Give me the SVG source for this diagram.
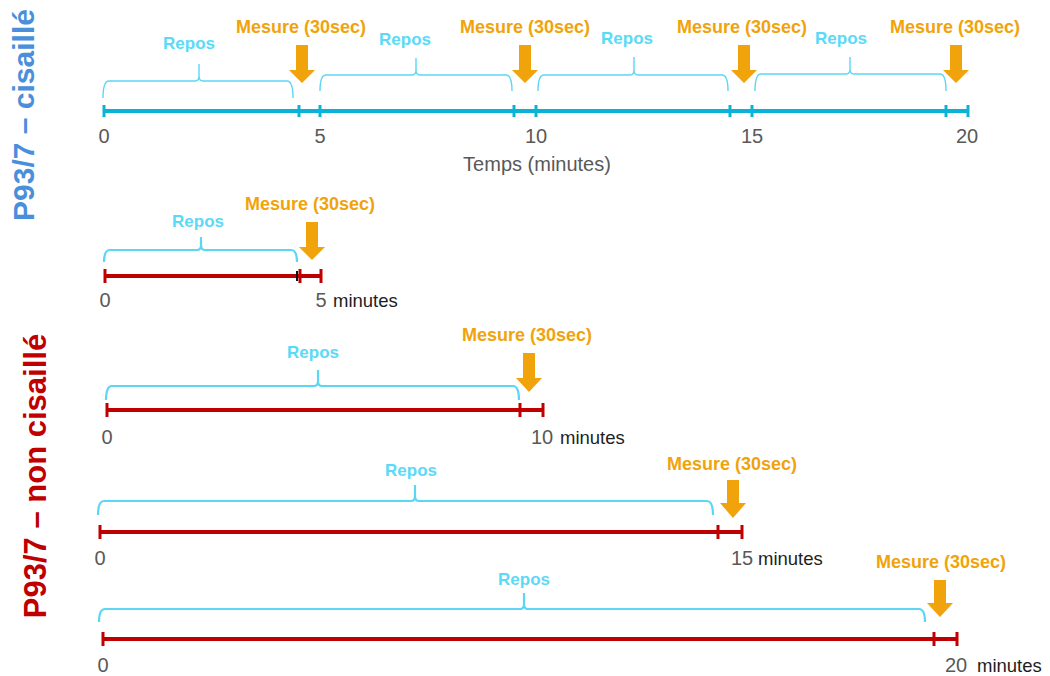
<svg xmlns="http://www.w3.org/2000/svg" width="1050" height="676" viewBox="0 0 1050 676">
<style>
.title{font-family:"Liberation Sans",Arial,sans-serif;font-weight:bold;text-anchor:middle}
.mes{font-family:"Liberation Sans",Arial,sans-serif;font-weight:bold;font-size:18px;fill:#F0A30A;text-anchor:middle}
.rep{font-family:"Liberation Sans",Arial,sans-serif;font-weight:bold;font-size:17px;fill:#5BDAF8;text-anchor:middle}
.num{font-family:"Liberation Sans",Arial,sans-serif;font-size:20px;fill:#595959;text-anchor:middle}
.min{font-family:"Liberation Sans",Arial,sans-serif;font-size:18.5px;fill:#1e1e1e}
.blue{stroke:#0AB2D6;stroke-width:4;fill:none}
.btick{stroke:#0AB2D6;stroke-width:3}
.red{stroke:#C00000;stroke-width:4;fill:none}
.rtick{stroke:#C00000;stroke-width:3}
.brace{stroke:#5CD6F5;stroke-width:1.4;fill:none}
.brace2{stroke:#5CD6F5;stroke-width:2.2;fill:none}
.arrow{fill:#F0A30A}
</style>

<text class="title" font-size="30" fill="#4A8FDB" transform="translate(34,115) rotate(-90)">P93/7 – cisaillé</text>
<text class="title" font-size="31" fill="#C00000" transform="translate(46,476) rotate(-90)">P93/7 – non cisaillé</text>

<g id="timeline-cisaille">
  <line class="blue" x1="104" y1="111" x2="968" y2="111"/>
  <g class="btick">
    <line x1="104" y1="105" x2="104" y2="117"/>
    <line x1="299" y1="105" x2="299" y2="117"/>
    <line x1="320" y1="105" x2="320" y2="117"/>
    <line x1="514" y1="105" x2="514" y2="117"/>
    <line x1="536" y1="105" x2="536" y2="117"/>
    <line x1="730" y1="105" x2="730" y2="117"/>
    <line x1="752" y1="105" x2="752" y2="117"/>
    <line x1="946" y1="105" x2="946" y2="117"/>
    <line x1="968" y1="105" x2="968" y2="117"/>
  </g>
  <text class="num" x="104" y="143">0</text>
  <text class="num" x="320" y="143">5</text>
  <text class="num" x="536" y="143">10</text>
  <text class="num" x="752" y="143">15</text>
  <text class="num" x="967" y="143">20</text>
  <text class="num" x="537" y="171">Temps (minutes)</text>
  <path class="brace" d="M103 98 Q103 81 109 81 L195 81 Q199 81 199 76 L199 64 L199 76 Q199 81 203 81 L287 81 Q293 81 293 98"/>
  <path class="brace" d="M320 91 Q320 75 326 75 L412 75 Q416 75 416 70 L416 58 L416 70 Q416 75 420 75 L506 75 Q512 75 512 91"/>
  <path class="brace" d="M538 91 Q538 75 544 75 L630 75 Q634 75 634 70 L634 57 L634 70 Q634 75 638 75 L722 75 Q728 75 728 91"/>
  <path class="brace" d="M755 91 Q755 74 761 74 L846 74 Q850 74 850 69 L850 57 L850 69 Q850 74 854 74 L940 74 Q946 74 946 91"/>
  <text class="rep" x="189" y="49">Repos</text>
  <text class="rep" x="405" y="45">Repos</text>
  <text class="rep" x="627" y="44">Repos</text>
  <text class="rep" x="841" y="44">Repos</text>
  <polygon class="arrow" points="296,45 308,45 308,70 315,70 302,83 289,70 296,70"/>
  <polygon class="arrow" points="519,45 531,45 531,70 538,70 525,83 512,70 519,70"/>
  <polygon class="arrow" points="738,45 750,45 750,70 757,70 744,83 731,70 738,70"/>
  <polygon class="arrow" points="950,45 962,45 962,70 969,70 956,83 943,70 950,70"/>
  <text class="mes" x="301" y="33">Mesure (30sec)</text>
  <text class="mes" x="525" y="33">Mesure (30sec)</text>
  <text class="mes" x="742" y="33">Mesure (30sec)</text>
  <text class="mes" x="955" y="33">Mesure (30sec)</text>
</g>

<g id="timeline-5min">
  <line class="red" x1="105" y1="276" x2="321" y2="276"/>
  <g class="rtick">
    <line x1="105" y1="269" x2="105" y2="283"/>
    <line x1="300" y1="269" x2="300" y2="283"/>
    <line x1="321" y1="269" x2="321" y2="283"/>
  </g>
  <line x1="297" y1="271" x2="297" y2="281" stroke="#111" stroke-width="2"/>
  <path class="brace2" d="M104 262 Q104 250 110 250 L197 250 Q201 250 201 245 L201 237 L201 245 Q201 250 205 250 L291 250 Q297 250 297 262"/>
  <text class="rep" x="198" y="227">Repos</text>
  <polygon class="arrow" points="306,222 318,222 318,247 325,247 312,260 299,247 306,247"/>
  <text class="mes" x="310" y="210">Mesure (30sec)</text>
  <text class="num" x="105" y="307">0</text>
  <text class="num" x="321" y="307">5</text>
  <text class="min" x="333" y="307">minutes</text>
</g>

<g id="timeline-10min">
  <line class="red" x1="107" y1="410" x2="543" y2="410"/>
  <g class="rtick">
    <line x1="107" y1="403" x2="107" y2="417"/>
    <line x1="520" y1="403" x2="520" y2="417"/>
    <line x1="543" y1="403" x2="543" y2="417"/>
  </g>
  <path class="brace2" d="M106 400 Q106 386 112 386 L314 386 Q318 386 318 381 L318 370 L318 381 Q318 386 322 386 L513 386 Q519 386 519 400"/>
  <text class="rep" x="313" y="358">Repos</text>
  <polygon class="arrow" points="523,353 535,353 535,378 542,378 529,392 516,378 523,378"/>
  <text class="mes" x="527" y="341">Mesure (30sec)</text>
  <text class="num" x="107" y="444">0</text>
  <text class="num" x="542" y="444">10</text>
  <text class="min" x="560" y="444">minutes</text>
</g>

<g id="timeline-15min">
  <line class="red" x1="100" y1="532" x2="742" y2="532"/>
  <g class="rtick">
    <line x1="100" y1="525" x2="100" y2="539"/>
    <line x1="718" y1="525" x2="718" y2="539"/>
    <line x1="742" y1="525" x2="742" y2="539"/>
  </g>
  <path class="brace2" d="M98 515 Q98 501 104 501 L411 501 Q415 501 415 496 L415 485 L415 496 Q415 501 419 501 L707 501 Q713 501 713 515"/>
  <text class="rep" x="411" y="476">Repos</text>
  <polygon class="arrow" points="727,480 739,480 739,503 746,503 733,518 720,503 727,503"/>
  <text class="mes" x="732" y="470">Mesure (30sec)</text>
  <text class="num" x="100" y="565">0</text>
  <text class="num" x="742" y="565">15</text>
  <text class="min" x="758" y="565">minutes</text>
</g>

<g id="timeline-20min">
  <line class="red" x1="103" y1="639" x2="957" y2="639"/>
  <g class="rtick">
    <line x1="103" y1="632" x2="103" y2="646"/>
    <line x1="934" y1="632" x2="934" y2="646"/>
    <line x1="957" y1="632" x2="957" y2="646"/>
  </g>
  <path class="brace2" d="M99 622 Q99 609 105 609 L520 609 Q524 609 524 604 L524 593 L524 604 Q524 609 528 609 L919 609 Q925 609 925 622"/>
  <text class="rep" x="524" y="585">Repos</text>
  <polygon class="arrow" points="934,580 946,580 946,603 953,603 940,617 927,603 934,603"/>
  <text class="mes" x="941" y="568">Mesure (30sec)</text>
  <text class="num" x="103" y="672">0</text>
  <text class="num" x="956" y="672">20</text>
  <text class="min" x="977" y="672">minutes</text>
</g>
</svg>
